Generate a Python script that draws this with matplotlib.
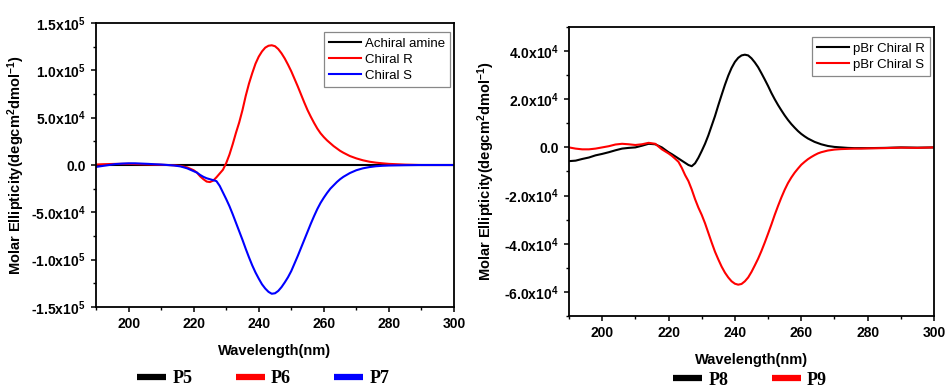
"""CD spectra of the amine-capped samples: P5/P6/P7 (left) and pBr P8/P9 (right)."""
import matplotlib

matplotlib.use("Agg")
import matplotlib.pyplot as plt  # noqa: E402
import numpy as np  # noqa: E402
from matplotlib.lines import Line2D  # noqa: E402
from matplotlib.ticker import FuncFormatter, MultipleLocator  # noqa: E402

plt.rcParams["font.family"] = ["Liberation Sans", "DejaVu Sans"]
plt.rcParams["mathtext.fontset"] = "custom"
plt.rcParams["mathtext.rm"] = "Liberation Sans:bold"
plt.rcParams["mathtext.it"] = "Liberation Sans:bold"
plt.rcParams["mathtext.bf"] = "Liberation Sans:bold"
plt.rcParams["mathtext.default"] = "rm"

# shared wavelength grid (nm): coarse in the flat parts, 1 nm through the bands
wavelength = (list(range(190, 221, 2)) + list(range(221, 267))
              + list(range(268, 281, 2)) + [285, 290, 295, 300])

# left panel, molar ellipticity (deg cm2 dmol-1)
achiral_wavelength = [190, 300]
achiral_amine = [0, 0]
chiral_r = [500, 800, 1000, 1200, 1200, 1200, 1000, 800, 600, 400, 200, 0, -300, -1000, -2500, -5500,
            -8000, -12000, -15000, -17500, -18000, -16500, -13000, -9000, -5000, 2000,
            11000, 22000, 34000, 45000, 58000, 73000, 86000, 97000, 107000, 114500,
            120000, 124000, 126000, 126500, 125500, 122500, 118000, 112500, 106000, 99000,
            91000, 83000, 74500, 66000, 58000, 51000, 44500, 38500, 33500, 29500,
            26000, 23000, 20000, 17500, 15000, 13000,
            9500, 7000, 5000, 3500, 2500, 1800, 1200,
            400, 0, 0, 0]
chiral_s = [-2000, -1000, 0, 1000, 1500, 1800, 1800, 1500, 1200, 800, 500, 0, -500, -1500, -3500, -6500,
            -8000, -10500, -12500, -14000, -15000, -16000, -17000, -22000, -29000, -36000,
            -43500, -52000, -61000, -70000, -79000, -88500, -97500, -106000, -113500, -120000,
            -126000, -130500, -134000, -136000, -135500, -133000, -129000, -124000, -118500, -112000,
            -104000, -96000, -87500, -79000, -70500, -62000, -54000, -46500, -40000, -34500,
            -29500, -25000, -21500, -18000, -15000, -12500,
            -8500, -5500, -3500, -2200, -1300, -800, -500,
            -200, 0, 0, 0]

# right panel
pbr_chiral_r = [-5700, -5500, -4800, -4200, -3300, -2700, -2000, -1200, -500, -200, 0, 700, 1500, 1300, 0, -2000,
                -2800, -3700, -4600, -5500, -6400, -7300, -7800, -6600, -4300, -1500,
                1500, 5000, 9000, 13000, 17500, 21800, 26000, 29800, 33000, 35500,
                37200, 38200, 38500, 38200, 37000, 35300, 33300, 30800, 28200, 25500,
                22600, 20000, 17600, 15400, 13300, 11400, 9700, 8200, 6800, 5600,
                4600, 3700, 3000, 2300, 1800, 1300,
                600, 200, 0, -200, -300, -300, -300,
                -200, 0, -100, 0]
pbr_chiral_s = [0, -500, -800, -800, -500, 0, 500, 1200, 1500, 1300, 1000, 1300, 1900, 1500, -800, -2500,
                -3500, -4700, -6000, -8500, -11500, -14000, -17500, -21500, -25000, -28000,
                -31500, -35500, -39500, -43300, -46500, -49500, -52000, -54000, -55600, -56600,
                -57000, -56700, -55600, -54000, -51700, -49000, -46200, -43000, -39500, -35800,
                -32000, -28000, -24300, -20800, -17600, -14800, -12500, -10500, -8800, -7200,
                -6000, -4900, -4000, -3200, -2500, -2000,
                -1300, -900, -700, -600, -500, -500, -400,
                -300, -100, -200, 0]

YLABEL = r"Molar Ellipticity(degcm$^2$dmol$^{-1}$)"
TICK_FONT = {"family": "Liberation Sans", "weight": "bold", "size": 10}


def _sci(v, _pos):
    if abs(v) < 1e-9:
        return "0.0"
    exp = int(np.floor(np.log10(abs(v)) + 1e-9))
    return f"{v / 10 ** exp:.1f}x10$^{{{exp}}}$"


def _style(ax, ylim, ymajor, yminor, ylabelpad):
    ax.set_xlim(190, 300)
    ax.set_ylim(*ylim)
    ax.xaxis.set_major_locator(MultipleLocator(20))
    ax.xaxis.set_minor_locator(MultipleLocator(10))
    ax.yaxis.set_major_locator(MultipleLocator(ymajor))
    ax.yaxis.set_minor_locator(MultipleLocator(yminor))
    ax.yaxis.set_major_formatter(FuncFormatter(_sci))
    ax.tick_params(which="major", direction="out", length=3.5, width=1.1, pad=4,
                   top=False, right=False)
    ax.tick_params(which="minor", direction="out", length=2, width=1.0, top=False, right=False)
    for lab in ax.get_xticklabels() + ax.get_yticklabels():
        lab.set_fontproperties(TICK_FONT)
    for sp in ax.spines.values():
        sp.set_linewidth(1.3)
    ax.set_xlabel("Wavelength(nm)", fontsize=10.5, fontweight="bold", labelpad=9)
    ax.set_ylabel(YLABEL, fontsize=10.5, fontweight="bold", labelpad=ylabelpad)


def _inner_legend(ax, anchor):
    leg = ax.legend(loc="upper right", bbox_to_anchor=anchor, borderaxespad=0,
                    fontsize=9.5, fancybox=False, framealpha=1, edgecolor="#888888",
                    handlelength=2.4, handletextpad=0.3, labelspacing=0.3, borderpad=0.4)
    leg.get_frame().set_linewidth(0.9)


def _sample_key(fig, colors, labels, center):
    handles = [Line2D([], [], color=c, lw=4.5, solid_capstyle="butt") for c in colors]
    fig.legend(handles, labels, loc="center", bbox_to_anchor=center, ncol=len(labels),
               frameon=False, prop={"family": "Liberation Serif", "weight": "bold", "size": 13},
               handlelength=1.6, handletextpad=0.35, columnspacing=2.4)


fig = plt.figure(figsize=(9.47, 3.89), dpi=100)
ax1 = fig.add_axes([0.1014, 0.2108, 0.378, 0.730])
ax2 = fig.add_axes([0.6008, 0.1877, 0.3855, 0.7429])

ax1.plot(achiral_wavelength, achiral_amine, color="black", lw=1.5, label="Achiral amine")
ax1.plot(wavelength, chiral_r, color="#ff0000", lw=1.5, label="Chiral R")
ax1.plot(wavelength, chiral_s, color="#0000ff", lw=1.5, label="Chiral S")
_style(ax1, (-1.5e5, 1.5e5), 5e4, 2.5e4, 3)
_inner_legend(ax1, (0.989, 0.968))

ax2.plot(wavelength, pbr_chiral_r, color="black", lw=1.5, label="pBr Chiral R")
ax2.plot(wavelength, pbr_chiral_s, color="#ff0000", lw=1.5, label="pBr Chiral S")
_style(ax2, (-7e4, 5e4), 2e4, 1e4, 5)
_inner_legend(ax2, (0.989, 0.965))

_sample_key(fig, ["black", "#ff0000", "#0000ff"], ["P5", "P6", "P7"], (0.278, 0.026))
_sample_key(fig, ["black", "#ff0000"], ["P8", "P9"], (0.792, 0.023))

fig.savefig("out.png", dpi=100)
plt.close(fig)
